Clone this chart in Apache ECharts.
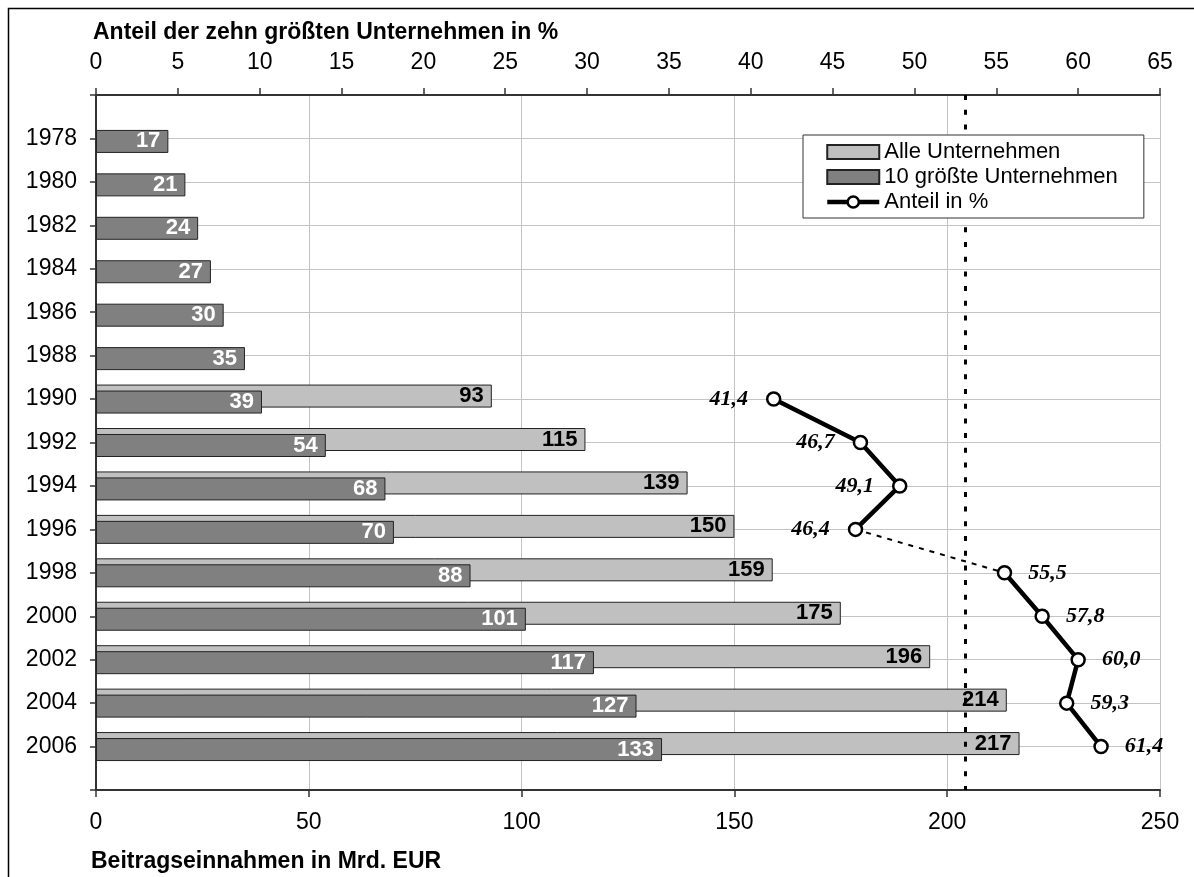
<!DOCTYPE html>
<html>
<head>
<meta charset="utf-8">
<script src="https://cdn.jsdelivr.net/npm/echarts@6/dist/echarts.min.js"></script>
<style>
  html, body { margin: 0; padding: 0; background: #fff; }
  #chart { width: 1194px; height: 877px; }
</style>
</head>
<body>
<div id="chart"></div>
<script>
// Jahre (Kategorien der vertikalen Achse)
const years = ['1978', '1980', '1982', '1984', '1986', '1988', '1990', '1992',
               '1994', '1996', '1998', '2000', '2002', '2004', '2006'];

// Beitragseinnahmen aller Unternehmen in Mrd. EUR
const allCompanies = [null, null, null, null, null, null, 93, 115, 139, 150, 159, 175, 196, 214, 217];

// Beitragseinnahmen der 10 größten Unternehmen in Mrd. EUR
const topTen = [17, 21, 24, 27, 30, 35, 39, 54, 68, 70, 88, 101, 117, 127, 133];

// Anteil der zehn größten Unternehmen in %
const sharePct = [null, null, null, null, null, null, 41.4, 46.7, 49.1, 46.4, 55.5, 57.8, 60.0, 59.3, 61.4];

// Bruch in der Zeitreihe zwischen diesem und dem folgenden Jahr (gestrichelt)
const breakAfterYear = '1996';

// Senkrechte Markierung auf der Prozentachse
const shareMarker = 53.1;

const FONT = '"Liberation Sans", Arial, sans-serif';
const SERIF = '"Liberation Serif", "Times New Roman", serif';

// leere Rand-Kategorien oben und unten
const pad = arr => [null, ...arr, null];
const categories = [' ', ...years, '  '];

const bi = years.indexOf(breakAfterYear);
const shareBefore = sharePct.map((v, i) => (i <= bi ? v : null));
const shareAfter = sharePct.map((v, i) => (i > bi ? v : null));
const shareBridge = sharePct.map((v, i) => (i === bi || i === bi + 1 ? v : null));

const fmtPct = v => v.toFixed(1).replace('.', ',');

const lineLabel = (pos, dist) => ({
  show: true,
  position: pos,
  distance: dist,
  formatter: p => fmtPct(p.value),
  fontFamily: SERIF,
  fontStyle: 'italic',
  fontWeight: 'bold',
  fontSize: 22,
  color: '#000'
});

const lineBase = {
  type: 'line',
  xAxisIndex: 1,
  yAxisIndex: 0,
  symbol: 'circle',
  symbolSize: 13,
  connectNulls: false,
  lineStyle: { color: '#000', width: 4.5 },
  itemStyle: { color: '#fff', borderColor: '#000', borderWidth: 2.5 },
  z: 5
};

const chart = echarts.init(document.getElementById('chart'), null, { renderer: 'canvas' });

chart.setOption({
  animation: false,
  backgroundColor: '#fff',
  textStyle: { fontFamily: FONT },
  grid: { left: 96, right: 34, top: 95, bottom: 87, containLabel: false },
  legend: {
    orient: 'vertical',
    left: 803,
    top: 135,
    z: 20,
    padding: [6, 26, 5, 22],
    itemGap: 3,
    itemWidth: 52,
    itemHeight: 14,
    backgroundColor: '#fff',
    borderColor: '#333',
    borderWidth: 1,
    borderRadius: 0,
    textStyle: { fontFamily: FONT, fontSize: 22, color: '#000' },
    data: [
      { name: 'Alle Unternehmen', icon: 'rect' },
      { name: '10 größte Unternehmen', icon: 'rect' },
      {
        name: 'Anteil in %',
        lineStyle: { color: '#000', width: 4.5 },
        itemStyle: { color: '#fff', borderColor: '#000', borderWidth: 2.5 }
      }
    ]
  },
  xAxis: [
    {
      type: 'value',
      position: 'bottom',
      min: 0, max: 250, interval: 50,
      axisLine: { show: true, lineStyle: { color: '#333', width: 2 } },
      axisTick: { show: true, length: 7, lineStyle: { color: '#333', width: 1.5 } },
      axisLabel: { fontFamily: FONT, fontSize: 23, color: '#000', margin: 21 },
      splitLine: { show: true, lineStyle: { color: '#c4c4c4', width: 1 } }
    },
    {
      type: 'value',
      position: 'top',
      min: 0, max: 65, interval: 5,
      axisLine: { show: true, lineStyle: { color: '#333', width: 2 } },
      axisTick: { show: true, length: 7, lineStyle: { color: '#333', width: 1.5 } },
      axisLabel: { fontFamily: FONT, fontSize: 23, color: '#000', margin: 21 },
      splitLine: { show: false }
    }
  ],
  yAxis: [
    {
      type: 'category',
      data: categories,
      inverse: true,
      boundaryGap: false,
      axisLine: { show: true, lineStyle: { color: '#333', width: 2 } },
      axisTick: { show: true, interval: 0, length: 6, lineStyle: { color: '#333', width: 1.5 } },
      axisLabel: { interval: 0, fontFamily: FONT, fontSize: 23, color: '#000', margin: 19 },
      splitLine: { show: true, interval: 0, lineStyle: { color: '#c4c4c4', width: 1 } }
    }
  ],
  series: [
    {
      name: 'Alle Unternehmen',
      type: 'bar',
      xAxisIndex: 0,
      yAxisIndex: 0,
      data: pad(allCompanies),
      barWidth: 23,
      itemStyle: { color: '#c0c0c0', borderColor: '#222', borderWidth: 1 },
      label: {
        show: true, position: 'insideRight', distance: 8,
        fontFamily: FONT, fontWeight: 'bold', fontSize: 22, color: '#000'
      },
      z: 2
    },
    {
      name: '10 größte Unternehmen',
      type: 'bar',
      xAxisIndex: 0,
      yAxisIndex: 0,
      data: pad(topTen),
      barWidth: 23,
      barGap: '-74%',
      itemStyle: { color: '#808080', borderColor: '#222', borderWidth: 1 },
      label: {
        show: true, position: 'insideRight', distance: 8,
        fontFamily: FONT, fontWeight: 'bold', fontSize: 22, color: '#fff'
      },
      z: 3
    },
    Object.assign({}, lineBase, {
      name: 'Übergang',
      data: pad(shareBridge),
      symbol: 'none',
      lineStyle: { color: '#000', width: 2, type: [5, 6] },
      label: { show: false },
      z: 4
    }),
    Object.assign({}, lineBase, {
      name: 'Anteil in %',
      data: pad(shareBefore),
      label: lineLabel('left', 18)
    }),
    Object.assign({}, lineBase, {
      name: 'Anteil in %',
      data: pad(shareAfter),
      label: lineLabel('right', 16),
      markLine: {
        silent: true,
        symbol: 'none',
        z: 6,
        label: { show: false },
        lineStyle: { color: '#000', width: 3, type: [5, 9.7] },
        data: [{ xAxis: shareMarker }]
      }
    })
  ],
  graphic: [
    {
      type: 'rect',
      shape: { x: 8.5, y: 8.5, width: 1200, height: 900 },
      style: { fill: null, stroke: '#000', lineWidth: 1.5 },
      silent: true
    },
    {
      type: 'text',
      left: 93,
      top: 21,
      style: { text: 'Anteil der zehn größten Unternehmen in %', font: 'bold 23px ' + FONT, fill: '#000' }
    },
    {
      type: 'text',
      left: 91,
      top: 850,
      style: { text: 'Beitragseinnahmen in Mrd. EUR', font: 'bold 23px ' + FONT, fill: '#000' }
    }
  ]
});
</script>
</body>
</html>
